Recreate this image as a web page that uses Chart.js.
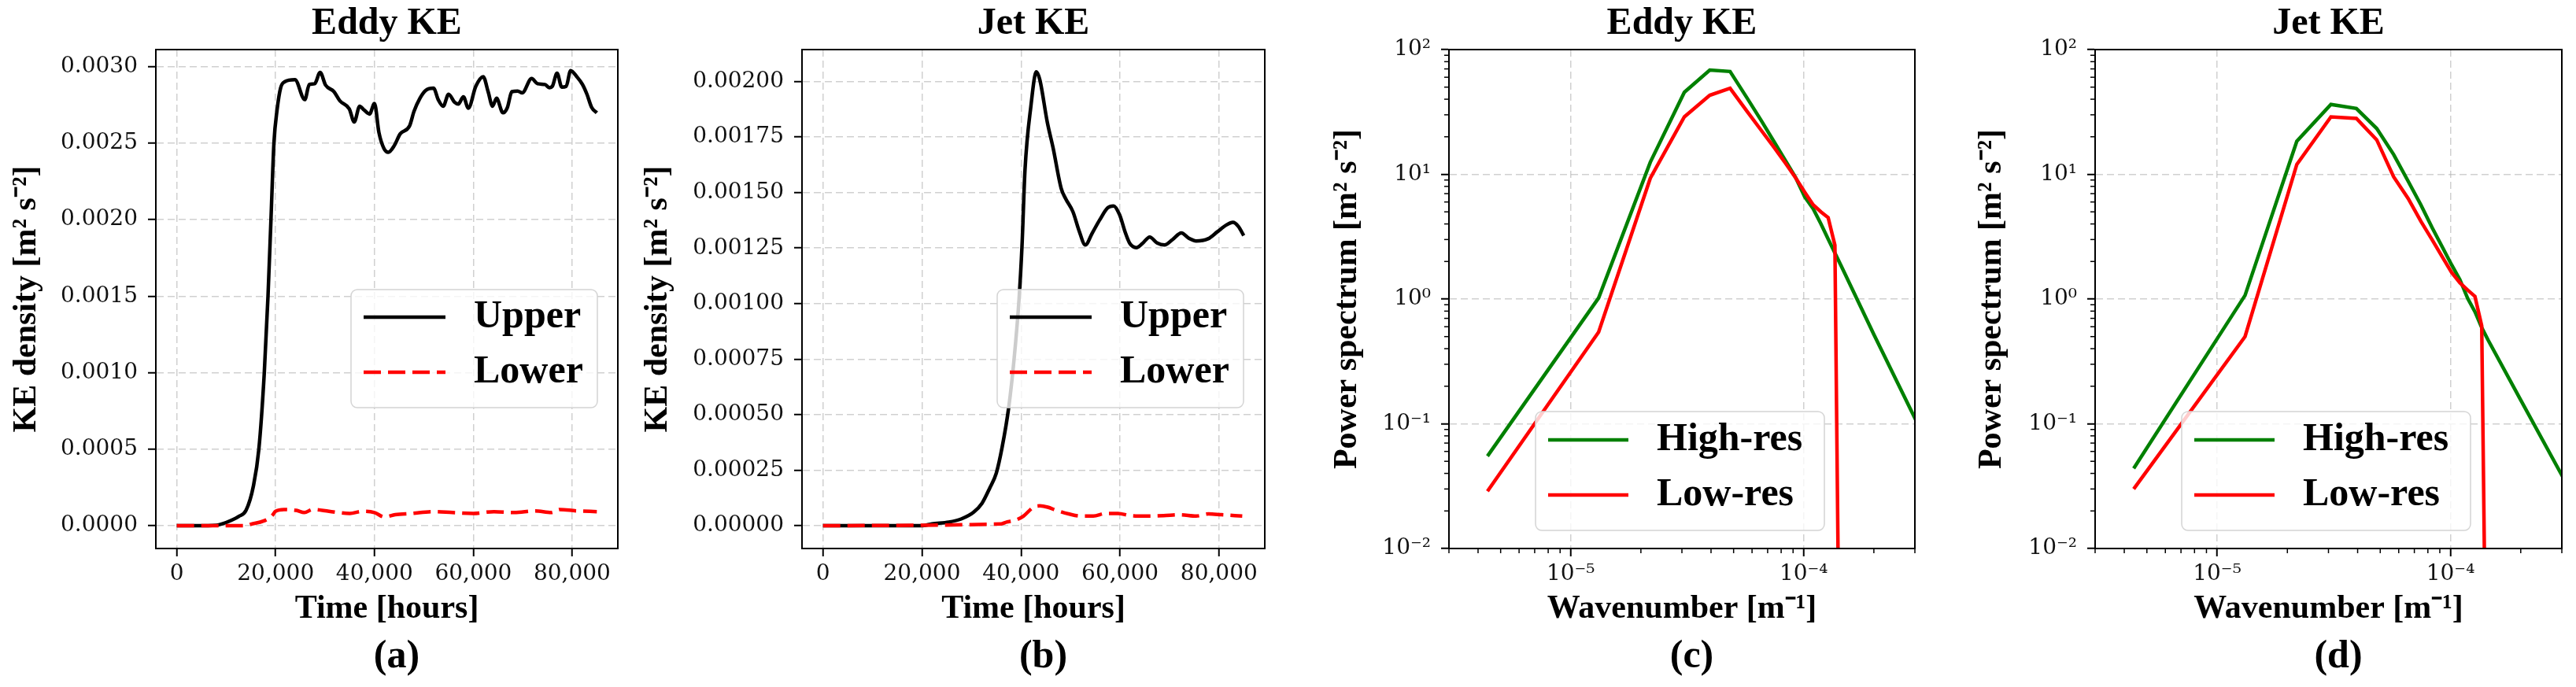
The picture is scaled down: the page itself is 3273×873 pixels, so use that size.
<!DOCTYPE html>
<html lang="en">
<head>
<meta charset="UTF-8">
<title>Eddy and jet kinetic energy</title>
<script src="https://cdn.jsdelivr.net/npm/chart.js"></script>
<style>
  body { margin: 0; background: #fff; }
  #figure { position: relative; width: 3273px; height: 873px; overflow: hidden; }
  #figure canvas { position: absolute; top: 0; }
</style>
</head>
<body>
<div id="figure">
  <canvas id="eddyTimeChart" width="821" height="873" style="left:0px"></canvas>
  <canvas id="jetTimeChart" width="821" height="873" style="left:810px"></canvas>
  <canvas id="eddySpecChart" width="821" height="873" style="left:1631px"></canvas>
  <canvas id="jetSpecChart" width="821" height="873" style="left:2452px"></canvas>
</div>
<script>
// ---- data ----
const timeTicks = [0, 20000, 40000, 60000, 80000];
const eddyKeTicks = [0, 0.0005, 0.001, 0.0015, 0.002, 0.0025, 0.003];
const jetKeTicks = [0, 0.00025, 0.0005, 0.00075, 0.001, 0.00125, 0.0015, 0.00175, 0.002];
const powerDecades = [-2, -1, 0, 1, 2];
const wavenumberDecades = [-6, -5, -4];

const eddyUpperTime = [0, 4000, 8000, 9200, 11000, 12500, 14000, 15500, 16600, 17700, 18450, 19050, 19650, 20300,
  21000, 21800, 23900, 25900, 26800, 27900, 29000, 30100, 31800, 33000, 34900, 35900, 37000, 37900, 39000, 40000,
  40900, 41900, 42800, 44000, 45200, 47100, 48000, 49200, 50400, 51950, 52900, 53900, 55000, 56200, 56950, 58000,
  59000, 60500, 62000, 63000, 63900, 64700, 66000, 66900, 67800, 69000, 69900, 71800, 73000, 74500, 75400, 76000,
  76950, 77900, 78800, 79700, 80950, 82100, 83000, 83950, 85000];
const eddyUpperKE = [0, 0, 0.000003, 0.000012, 0.000035, 0.00006, 0.0001, 0.00026, 0.0005, 0.001, 0.0015, 0.002, 0.0025, 0.00272,
  0.00286, 0.0029, 0.002914, 0.002784, 0.002883, 0.002888, 0.002962, 0.002879, 0.002836, 0.002776, 0.002724, 0.002638, 0.002741, 0.002716, 0.00269, 0.002759,
  0.002569, 0.002466, 0.00244, 0.002483, 0.00256, 0.002612, 0.002707, 0.002793, 0.002845, 0.002859, 0.002784, 0.002741, 0.002819, 0.002767, 0.002755, 0.002802,
  0.002728, 0.002871, 0.002934, 0.002836, 0.002741, 0.002793, 0.002698, 0.002733, 0.002836, 0.00284, 0.002828, 0.002922, 0.002888, 0.002883, 0.002862, 0.002871,
  0.002957, 0.002866, 0.002871, 0.002974, 0.002934, 0.002883, 0.002819, 0.002733, 0.002698];

const eddyLowerTime = [0, 14000, 15000, 17500, 19200, 20000, 21700, 24200, 25800, 27500, 30800, 35000, 37500, 40000,
  42000, 44200, 47500, 51700, 55800, 60000, 64200, 68300, 72500, 75800, 77500, 80800, 85000];
const eddyLowerKE = [0, 0, 0.00001, 0.00003, 0.000063, 0.000094, 0.000106, 0.0001, 0.000086, 0.000106, 0.000094, 0.00008, 0.000094, 0.000086,
  0.000057, 0.000072, 0.00008, 0.000092, 0.000086, 0.00008, 0.000092, 0.000086, 0.000097, 0.000086, 0.000106, 0.000097, 0.000092];

const jetUpperTime = [0, 20000, 22000, 25400, 27900, 30400, 32100, 33700, 35000, 36200, 37500, 38600, 39600, 40200,
  40800, 42000, 43100, 43800, 45300, 46500, 48100, 49000, 50500, 51700, 53000, 54400, 55900, 57500, 58700, 59900,
  61100, 62000, 63300, 64500, 66000, 67500, 69000, 70600, 72400, 73900, 75400, 77800, 79700, 81500, 82800, 83900, 85000];
const jetUpperKE = [0, 0, 0.000008, 0.000016, 0.00003, 0.00006, 0.0001, 0.00017, 0.000236, 0.000355, 0.00053, 0.00075, 0.00102, 0.00126,
  0.0016, 0.00189, 0.002044, 0.002008, 0.001818, 0.001699, 0.00152, 0.001473, 0.001413, 0.00133, 0.001264, 0.001318, 0.001377, 0.001431, 0.00144, 0.001401,
  0.001318, 0.00127, 0.001252, 0.00127, 0.0013, 0.001273, 0.001264, 0.001288, 0.001318, 0.001294, 0.001282, 0.001292, 0.001324, 0.001354, 0.001366, 0.001348, 0.001306];

const jetLowerTime = [0, 36000, 37100, 38800, 40500, 42500, 43800, 45400, 47100, 49600, 52100, 54600, 57100, 59600,
  62100, 65400, 68800, 72100, 75400, 77900, 80500, 84700];
const jetLowerKE = [0, 0.000008, 0.000016, 0.000024, 0.000043, 0.000083, 0.000089, 0.000083, 0.000069, 0.000053, 0.000043, 0.000043, 0.000055, 0.000055,
  0.000045, 0.000043, 0.000045, 0.000049, 0.000043, 0.000053, 0.000049, 0.000043];

const lowResK = [4.39e-6, 1.317e-5, 2.195e-5, 3.073e-5, 3.951e-5, 4.829e-5, 5.707e-5, 6.585e-5, 7.463e-5,
  8.341e-5, 9.219e-5, 1.0097e-4, 1.0975e-4, 1.1853e-4, 1.2731e-4, 1.3609e-4, 1.4487e-4];
const highResK = [4.39e-6, 1.317e-5, 2.195e-5, 3.073e-5, 3.951e-5, 4.829e-5, 5.707e-5, 6.585e-5, 7.463e-5,
  8.341e-5, 9.219e-5, 1.0097e-4, 1.0975e-4, 1.1853e-4, 1.2731e-4, 1.3609e-4, 1.4487e-4, 2.0e-4, 3.1e-4];

const eddyHighRes = [0.055, 1.02, 12.5, 45.5, 68.5, 66.7, 41, 26.8, 18.2, 12.9, 9.45, 6.6, 5.3, 4.0, 3.03, 2.34, 1.84, 0.52, 0.098];
const eddyLowRes = [0.0288, 0.543, 9.3, 28.9, 43, 49, 32, 22.4, 16.4, 12.3, 9.4, 7.2, 5.7, 5.0, 4.5, 2.7, 0.00003];
const jetHighRes = [0.0438, 1.07, 18.4, 36.3, 33.7, 23.3, 14.4, 8.8, 5.7, 3.74, 2.62, 1.89, 1.43, 1.01, 0.79, 0.59, 0.47, 0.155, 0.0346];
const jetLowRes = [0.030, 0.50, 12, 28.9, 28.1, 18.9, 9.55, 6.4, 4.2, 2.99, 2.18, 1.64, 1.35, 1.18, 1.05, 0.61, 0.00003];

// ---- styling ----
const tickFont = { family: "'DejaVu Serif', serif", size: 28 };
const labelFont = { family: "'Liberation Serif', serif", size: 42, weight: 'bold' };
const titleFont = { family: "'Liberation Serif', serif", size: 48, weight: 'bold' };
const captionFont = { family: "'Liberation Serif', serif", size: 50, weight: 'bold' };
const gridColor = 'rgba(176,176,176,0.6)';
const gridDash = [9, 5];
const lineWidth = 4.5;

function pairs(xs, ys) {
  return xs.map((x, i) => ({ x, y: ys[i] }));
}

function isDecade(v) {
  const e = Math.log10(v);
  return Math.abs(e - Math.round(e)) < 1e-9;
}

function logTicks(decades, min, max) {
  const out = [];
  decades.forEach(e => {
    for (let m = 1; m <= 9; m++) {
      const v = m * Math.pow(10, e);
      if (v >= min * 0.999999 && v <= max * 1.000001) out.push({ value: v });
    }
  });
  return out;
}

const sup = { '-': '\u207B', '0': '\u2070', '1': '\u00B9', '2': '\u00B2', '3': '\u00B3', '4': '\u2074', '5': '\u2075', '6': '\u2076', '7': '\u2077', '8': '\u2078', '9': '\u2079' };
function powLabel(v) {
  if (!isDecade(v)) return '';
  const e = Math.round(Math.log10(v));
  return '10' + String(e).split('').map(c => sup[c]).join('');
}

// frame on all four sides plus short minor ticks on log axes
const framePlugin = {
  id: 'frame',
  afterDatasetsDraw(chart) {
    const { ctx, chartArea: a } = chart;
    ctx.save();
    ctx.strokeStyle = '#000';
    ctx.lineWidth = 1.5;
    ['x', 'y'].forEach(id => {
      const s = chart.scales[id];
      if (s.type !== 'logarithmic') return;
      s.ticks.forEach(t => {
        if (isDecade(t.value)) return;
        const p = s.getPixelForValue(t.value);
        ctx.beginPath();
        if (s.isHorizontal()) { ctx.moveTo(p, a.bottom); ctx.lineTo(p, a.bottom + 6); }
        else { ctx.moveTo(a.left, p); ctx.lineTo(a.left - 6, p); }
        ctx.stroke();
      });
    });
    ctx.lineWidth = 2;
    ctx.strokeRect(a.left, a.top, a.right - a.left, a.bottom - a.top);
    ctx.restore();
  }
};

// matplotlib-like legend box placed inside the axes
const boxLegend = {
  id: 'boxLegend',
  afterDraw(chart, args, opts) {
    const { ctx, chartArea: a } = chart;
    const x = a.left + opts.left, y = a.top + opts.top;
    ctx.save();
    ctx.beginPath();
    ctx.roundRect(x, y, opts.width, opts.height, 8);
    ctx.fillStyle = 'rgba(255,255,255,0.8)';
    ctx.fill();
    ctx.strokeStyle = '#d4d4d4';
    ctx.lineWidth = 1.5;
    ctx.stroke();
    chart.data.datasets.forEach((ds, i) => {
      const ry = y + opts.rows[i];
      ctx.beginPath();
      ctx.setLineDash(ds.borderDash || []);
      ctx.strokeStyle = ds.borderColor;
      ctx.lineWidth = ds.borderWidth;
      ctx.moveTo(x + 16, ry);
      ctx.lineTo(x + 16 + opts.handle, ry);
      ctx.stroke();
      ctx.setLineDash([]);
      ctx.fillStyle = '#000';
      ctx.font = "bold 50px 'Liberation Serif', serif";
      ctx.textBaseline = 'middle';
      ctx.fillText(ds.label, x + opts.textX, ry);
    });
    ctx.restore();
  }
};

function baseOptions(p) {
  return {
    responsive: false,
    animation: false,
    devicePixelRatio: 1,
    layout: { padding: { left: 0, right: p.padRight, top: 0, bottom: 0 } },
    plugins: {
      legend: { display: false },
      tooltip: { enabled: false },
      title: { display: true, text: p.title, font: titleFont, color: '#000', fullSize: false, padding: { top: 2, bottom: 3.4 } },
      subtitle: { display: true, text: '\u2002' + p.caption, position: 'bottom', font: captionFont, color: '#000', fullSize: false, padding: { top: 0, bottom: 8 } },
      boxLegend: p.legend
    }
  };
}

function axisCommon(extra) {
  return Object.assign({
    grid: { color: gridColor, lineWidth: 1.5, tickLength: 10, tickColor: '#000', tickWidth: 2 },
    border: { display: true, color: '#000', width: 2, dash: gridDash }
  }, extra);
}

function timeChart(canvasId, p) {
  const opts = baseOptions(p);
  opts.scales = {
    x: axisCommon({
      type: 'linear', min: -4250, max: 89250,
      afterBuildTicks: s => { s.ticks = timeTicks.map(v => ({ value: v })); },
      afterFit: s => { s.height = 108; },
      ticks: { autoSkip: false, maxRotation: 0, padding: 5.6, font: tickFont, color: '#111', callback: v => v.toLocaleString('en-US') },
      title: { display: true, text: 'Time [hours]', font: labelFont, color: '#000', padding: { top: 0, bottom: 5.8 } }
    }),
    y: axisCommon({
      type: 'linear', min: p.yMin, max: p.yMax,
      afterBuildTicks: s => { s.ticks = p.yTicks.map(v => ({ value: v })); },
      afterFit: s => { s.width = p.yWidth; },
      ticks: { autoSkip: false, padding: 13, font: tickFont, color: '#111', callback: v => v.toFixed(p.digits) },
      title: { display: true, text: 'KE density [m\u00B2 s\u207B\u00B2]', font: labelFont, color: '#000', padding: { top: p.yTitlePad, bottom: 0 } }
    })
  };
  return new Chart(document.getElementById(canvasId), {
    type: 'line',
    data: {
      datasets: [
        { label: 'Upper', data: pairs(p.upperTime, p.upperKE), borderColor: '#000000', borderWidth: lineWidth, pointRadius: 0, cubicInterpolationMode: 'monotone', order: 1 },
        { label: 'Lower', data: pairs(p.lowerTime, p.lowerKE), borderColor: '#ff0000', borderWidth: lineWidth, borderDash: [22, 9], pointRadius: 0, cubicInterpolationMode: 'monotone', order: 0 }
      ]
    },
    options: opts,
    plugins: [framePlugin, boxLegend]
  });
}

function specChart(canvasId, p) {
  const opts = baseOptions(p);
  const majorOnly = (on, off) => c => (c.tick && isDecade(c.tick.value)) ? on : off;
  const logGrid = { color: majorOnly(gridColor, 'rgba(0,0,0,0)'), lineWidth: 1.5, tickLength: 10, tickColor: majorOnly('#000', 'rgba(0,0,0,0)'), tickWidth: 2 };
  opts.scales = {
    x: axisCommon({
      type: 'logarithmic', min: 3e-6, max: 3e-4,
      afterBuildTicks: s => { s.ticks = logTicks(wavenumberDecades, 3e-6, 3e-4); },
      afterFit: s => { s.height = 108; },
      ticks: { autoSkip: false, maxRotation: 0, padding: 5.6, font: tickFont, color: '#111', callback: v => powLabel(v) },
      grid: logGrid,
      title: { display: true, text: 'Wavenumber [m\u207B\u00B9]', font: labelFont, color: '#000', padding: { top: 0, bottom: 5.8 } }
    }),
    y: axisCommon({
      type: 'logarithmic', min: 0.01, max: 100,
      afterBuildTicks: s => { s.ticks = logTicks(powerDecades, 0.01, 100); },
      afterFit: s => { s.width = p.yWidth; },
      ticks: { autoSkip: false, padding: 13, font: tickFont, color: '#111', callback: v => powLabel(v) },
      grid: logGrid,
      title: { display: true, text: 'Power spectrum [m\u00B2 s\u207B\u00B2]', font: labelFont, color: '#000', padding: { top: p.yTitlePad, bottom: 0 } }
    })
  };
  return new Chart(document.getElementById(canvasId), {
    type: 'line',
    data: {
      datasets: [
        { label: 'High-res', data: pairs(highResK, p.high), borderColor: '#008000', borderWidth: lineWidth, pointRadius: 0, order: 1 },
        { label: 'Low-res', data: pairs(lowResK, p.low), borderColor: '#ff0000', borderWidth: lineWidth, pointRadius: 0, order: 0 }
      ]
    },
    options: opts,
    plugins: [framePlugin, boxLegend]
  });
}

const timeLegend = { left: 248, top: 305, width: 313, height: 150, rows: [35, 105], handle: 104, textX: 156 };
const specLegend = { left: 110, top: 460, width: 367, height: 151, rows: [36, 106], handle: 102, textX: 154 };

timeChart('eddyTimeChart', {
  title: 'Eddy KE', caption: '(a)', padRight: 36, yWidth: 198, yTitlePad: 8.8,
  yMin: -0.000149, yMax: 0.003111, yTicks: eddyKeTicks, digits: 4,
  upperTime: eddyUpperTime, upperKE: eddyUpperKE, lowerTime: eddyLowerTime, lowerKE: eddyLowerKE,
  legend: timeLegend
});

timeChart('jetTimeChart', {
  title: 'Jet KE', caption: '(b)', padRight: 24, yWidth: 209, yTitlePad: 1,
  yMin: -0.000103, yMax: 0.002144, yTicks: jetKeTicks, digits: 5,
  upperTime: jetUpperTime, upperKE: jetUpperKE, lowerTime: jetLowerTime, lowerKE: jetLowerKE,
  legend: timeLegend
});

specChart('eddySpecChart', {
  title: 'Eddy KE', caption: '(c)', padRight: 19, yWidth: 210, yTitlePad: 55.8,
  high: eddyHighRes, low: eddyLowRes, legend: specLegend
});

specChart('jetSpecChart', {
  title: 'Jet KE', caption: '(d)', padRight: 18, yWidth: 210, yTitlePad: 53.8,
  high: jetHighRes, low: jetLowRes, legend: specLegend
});
</script>
</body>
</html>
